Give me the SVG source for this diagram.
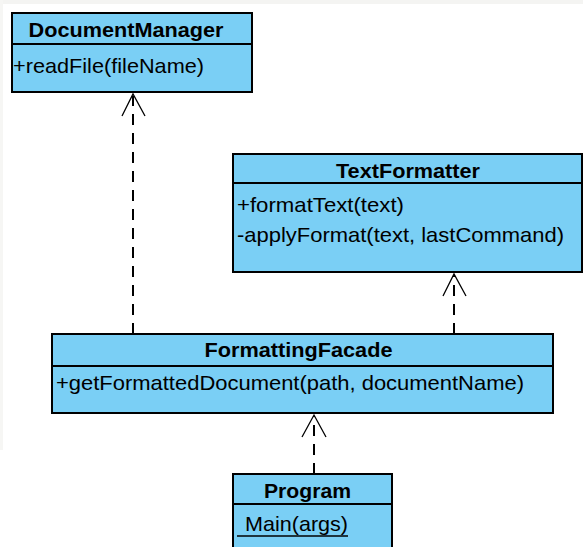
<svg xmlns="http://www.w3.org/2000/svg" width="583" height="547" viewBox="0 0 583 547">
<style>
.box{fill:#7ACFF5;stroke:#000;stroke-width:2}
.div{stroke:#000;stroke-width:2}
.title{font-family:"Liberation Sans",Arial,sans-serif;font-weight:bold;font-size:21px;fill:#000;text-anchor:middle}
.op{font-family:"Liberation Sans",Arial,sans-serif;font-size:21px;fill:#000}
.dep{stroke:#000;stroke-width:2;stroke-dasharray:11 8;fill:none}
.head{stroke:#000;stroke-width:1.3;fill:none}
</style>
<rect width="583" height="547" fill="#fff"/>
<rect x="0" y="0" width="583" height="4" fill="#f4f4f2"/>
<rect x="0" y="0" width="3" height="450" fill="#f6f6f4"/>
<g id="connectors">
<line class="dep" x1="133" y1="334" x2="133" y2="96"/>
<polyline class="head" points="122,116 133,94 145,116"/>
<line class="dep" x1="454" y1="334" x2="454" y2="275"/>
<polyline class="head" points="443,296 454,274 466,296"/>
<line class="dep" x1="314" y1="474" x2="314" y2="416"/>
<polyline class="head" points="302,437 314,415 326,437"/>
</g>
<g id="DocumentManager">
<rect class="box" x="12" y="13" width="240" height="79"/>
<line class="div" x1="12" y1="44" x2="252" y2="44"/>
<text class="title" x="126" y="37" textLength="195" lengthAdjust="spacingAndGlyphs">DocumentManager</text>
<text class="op" x="13" y="73" textLength="191" lengthAdjust="spacingAndGlyphs">+readFile(fileName)</text>
</g>
<g id="TextFormatter">
<rect class="box" x="233" y="154" width="349" height="118"/>
<line class="div" x1="233" y1="183" x2="582" y2="183"/>
<text class="title" x="408" y="178" textLength="144" lengthAdjust="spacingAndGlyphs">TextFormatter</text>
<text class="op" x="237" y="212" textLength="167" lengthAdjust="spacingAndGlyphs">+formatText(text)</text>
<text class="op" x="237" y="242" textLength="327" lengthAdjust="spacingAndGlyphs">-applyFormat(text, lastCommand)</text>
</g>
<g id="FormattingFacade">
<rect class="box" x="52" y="334" width="501" height="79"/>
<line class="div" x1="52" y1="366" x2="553" y2="366"/>
<text class="title" x="298.5" y="357" textLength="188" lengthAdjust="spacingAndGlyphs">FormattingFacade</text>
<text class="op" x="56" y="390" textLength="468" lengthAdjust="spacingAndGlyphs">+getFormattedDocument(path, documentName)</text>
</g>
<g id="Program">
<rect class="box" x="233" y="474" width="159" height="80"/>
<line class="div" x1="233" y1="504" x2="392" y2="504"/>
<text class="title" x="307.5" y="498" textLength="87" lengthAdjust="spacingAndGlyphs">Program</text>
<text class="op" x="245" y="531" textLength="103" lengthAdjust="spacingAndGlyphs">Main(args)</text>
<line x1="237" y1="536" x2="348" y2="536" stroke="#000" stroke-width="1.5"/>
</g>
</svg>
